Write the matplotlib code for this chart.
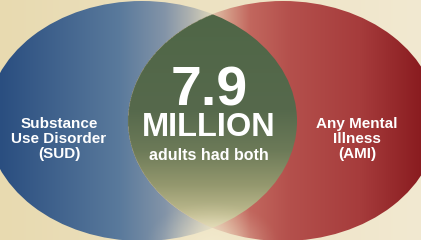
import numpy as np
import matplotlib
matplotlib.use('Agg')
import matplotlib.pyplot as plt
from matplotlib.patches import Ellipse
from matplotlib.colors import to_rgb

# venn data
set_labels = ['Substance\nUse Disorder\n(SUD)', 'Any Mental\nIllness\n(AMI)']
overlap_value = '7.9'
overlap_unit = 'MILLION'
overlap_note = 'adults had both'

W, H = 421, 240
FONT = 'Liberation Sans'

# ellipse geometry (pixels of the picture)
left_c, right_c, cy = 142, 283, 121
half_w, half_h = 155, 120


def hgrad(stops, n_x, n_y):
    xs = np.linspace(0, W, n_x)
    pos = [s[0] for s in stops]
    cols = np.array([to_rgb(s[1]) for s in stops])
    row = np.stack([np.interp(xs, pos, cols[:, k]) for k in range(3)], axis=-1)
    return np.repeat(row[None, :, :], n_y, axis=0)


def vgrad(stops, n_x, n_y):
    ys = np.linspace(0, H, n_y)
    pos = [s[0] for s in stops]
    cols = np.array([to_rgb(s[1]) for s in stops])
    col = np.stack([np.interp(ys, pos, cols[:, k]) for k in range(3)], axis=-1)
    return np.repeat(col[:, None, :], n_x, axis=1)


fig = plt.figure(figsize=(W / 100, H / 100), dpi=100)
ax = fig.add_axes([0, 0, 1, 1])
ax.set_xlim(0, W)
ax.set_ylim(H, 0)
ax.axis('off')
ext = (0, W, H, 0)

nx, ny = 842, 480

# background
bg = hgrad([(0, '#e8dab0'), (210, '#ede2c2'), (421, '#f2e9d1')], nx, ny)
ax.imshow(bg, extent=ext, origin='upper', aspect='auto', zorder=0)

left_e = Ellipse((left_c, cy), 2 * half_w, 2 * half_h, facecolor='none', edgecolor='none')
right_e = Ellipse((right_c, cy), 2 * half_w, 2 * half_h, facecolor='none', edgecolor='none')
ax.add_patch(left_e)
ax.add_patch(right_e)

blue = hgrad([(0, '#2a4e80'), (60, '#42648e'), (120, '#5a7a9c'), (165, '#8394a8'),
              (190, '#aeb2b0'), (210, '#d8d2ba'), (300, '#d8d2ba')], nx, ny)
im_b = ax.imshow(blue, extent=ext, origin='upper', aspect='auto', zorder=1)
im_b.set_clip_path(left_e)

red = hgrad([(0, '#e0c2aa'), (212, '#e0c2aa'), (228, '#d49a86'), (250, '#c2675e'),
             (290, '#b4504c'), (360, '#a63c3c'), (421, '#8a1c20')], nx, ny)
im_r = ax.imshow(red, extent=ext, origin='upper', aspect='auto', zorder=2)
im_r.set_clip_path(right_e)

# overlap, masked to the right ellipse and clipped to the left one
green = vgrad([(0, '#4e6646'), (110, '#56694c'), (150, '#6c7a58'), (185, '#94986e'),
               (215, '#c0bc90'), (240, '#eee4bc')], nx, ny)
gx, gy = np.meshgrid(np.linspace(0, W, nx), np.linspace(0, H, ny))
inside_r = ((gx - right_c) / half_w) ** 2 + ((gy - cy) / half_h) ** 2 <= 1
green = np.dstack([green, inside_r.astype(float)])
im_g = ax.imshow(green, extent=ext, origin='upper', aspect='auto', zorder=3)
im_g.set_clip_path(left_e)

# soft glow at bottom centre
r = np.hypot((gx - 212) / 70, (gy - 245) / 45)
glow = np.zeros((ny, nx, 4))
glow[..., :3] = to_rgb('#f4ecd0')
glow[..., 3] = np.clip(1 - r, 0, 1) ** 1.5 * 0.85
ax.imshow(glow, extent=ext, origin='upper', aspect='auto', zorder=4)

# texts
ax.text(209, 92, overlap_value, color='white', fontsize=40, fontweight='bold',
        family=FONT, ha='center', va='center', zorder=5)
ax.text(209, 128, overlap_unit, color='white', fontsize=23.5, fontweight='bold',
        family=FONT, ha='center', va='center', zorder=5)
ax.text(209, 155, overlap_note, color='white', fontsize=11.5, fontweight='bold',
        family=FONT, ha='center', va='center', zorder=5)
ax.text(59, 139, set_labels[0], color='white', fontsize=11, fontweight='bold',
        family=FONT, ha='center', va='center', linespacing=1.1, zorder=5)
ax.text(357, 139, set_labels[1], color='white', fontsize=11, fontweight='bold',
        family=FONT, ha='center', va='center', linespacing=1.1, zorder=5)

fig.savefig('out.png', dpi=100)
